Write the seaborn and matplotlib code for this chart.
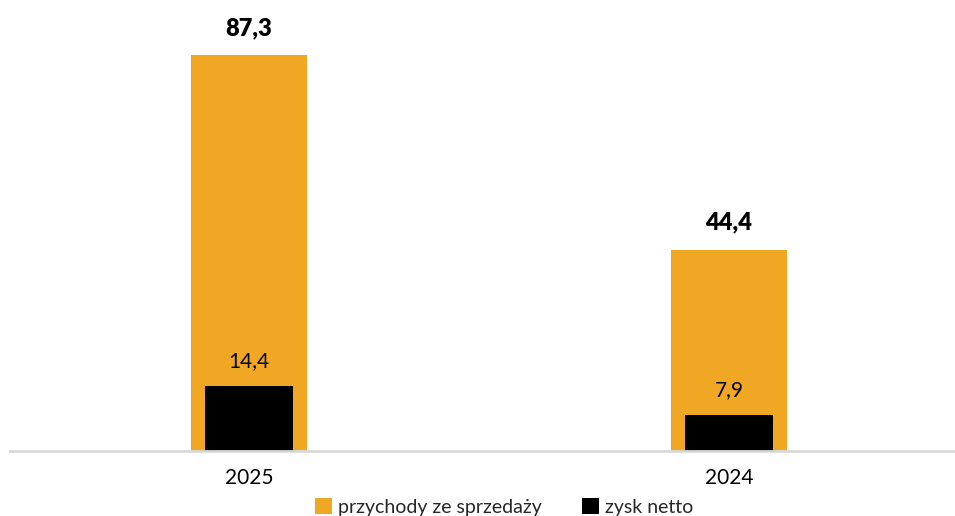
import matplotlib
matplotlib.use("Agg")
import matplotlib.pyplot as plt
import seaborn as sns
import pandas as pd
from matplotlib.patches import Patch

# Data
years = ["2025", "2024"]
revenue = [87.3, 44.4]      # przychody ze sprzedaży
net_profit = [14.4, 7.9]    # zysk netto
series_names = ["przychody ze sprzedaży", "zysk netto"]

ORANGE = "#F0A723"
BLACK = "#000000"

sns.set_theme(style="white")
plt.rcParams["font.family"] = ["Lato", "DejaVu Sans"]

df = pd.DataFrame({"rok": years, "przychody": revenue, "zysk": net_profit})

fig = plt.figure(figsize=(9.55, 5.16), dpi=100)
ax = fig.add_axes([10 / 955, 65 / 516, 945 / 955, 451 / 516])

sns.barplot(data=df, x="rok", y="przychody", order=years, color=ORANGE,
            width=0.242, saturation=1, ax=ax, linewidth=0)
sns.barplot(data=df, x="rok", y="zysk", order=years, color=BLACK,
            width=0.183, saturation=1, ax=ax, linewidth=0)

ax.set_xlim(-0.498, 1.471)
ax.set_ylim(0, 99.4)

# value labels above bars
for i, v in enumerate(revenue):
    ax.annotate(f"{v:.1f}".replace(".", ","), (i, v), xytext=(0, 19.5),
                textcoords="offset points", ha="center", va="center",
                fontsize=17, fontweight="heavy", color="black")
for i, v in enumerate(net_profit):
    ax.annotate(f"{v:.1f}".replace(".", ","), (i, v), xytext=(0, 18),
                textcoords="offset points", ha="center", va="center",
                fontsize=15, color="black")

for s in ["top", "right", "left"]:
    ax.spines[s].set_visible(False)
ax.spines["bottom"].set_color("#D9D9D9")
ax.spines["bottom"].set_linewidth(2)
ax.set_yticks([])
ax.set_xlabel("")
ax.set_ylabel("")
ax.tick_params(axis="x", length=0, labelsize=15, pad=12, colors="black")

handles = [Patch(facecolor=ORANGE, edgecolor="none"),
           Patch(facecolor=BLACK, edgecolor="none")]
fig.legend(handles, series_names, loc="center", bbox_to_anchor=(504 / 955, 1 - 507 / 516),
           ncol=2, frameon=False, fontsize=14, handlelength=0.85, handleheight=0.85,
           handletextpad=0.3, columnspacing=2.1, borderpad=0)

fig.savefig("out.png", dpi=100)
